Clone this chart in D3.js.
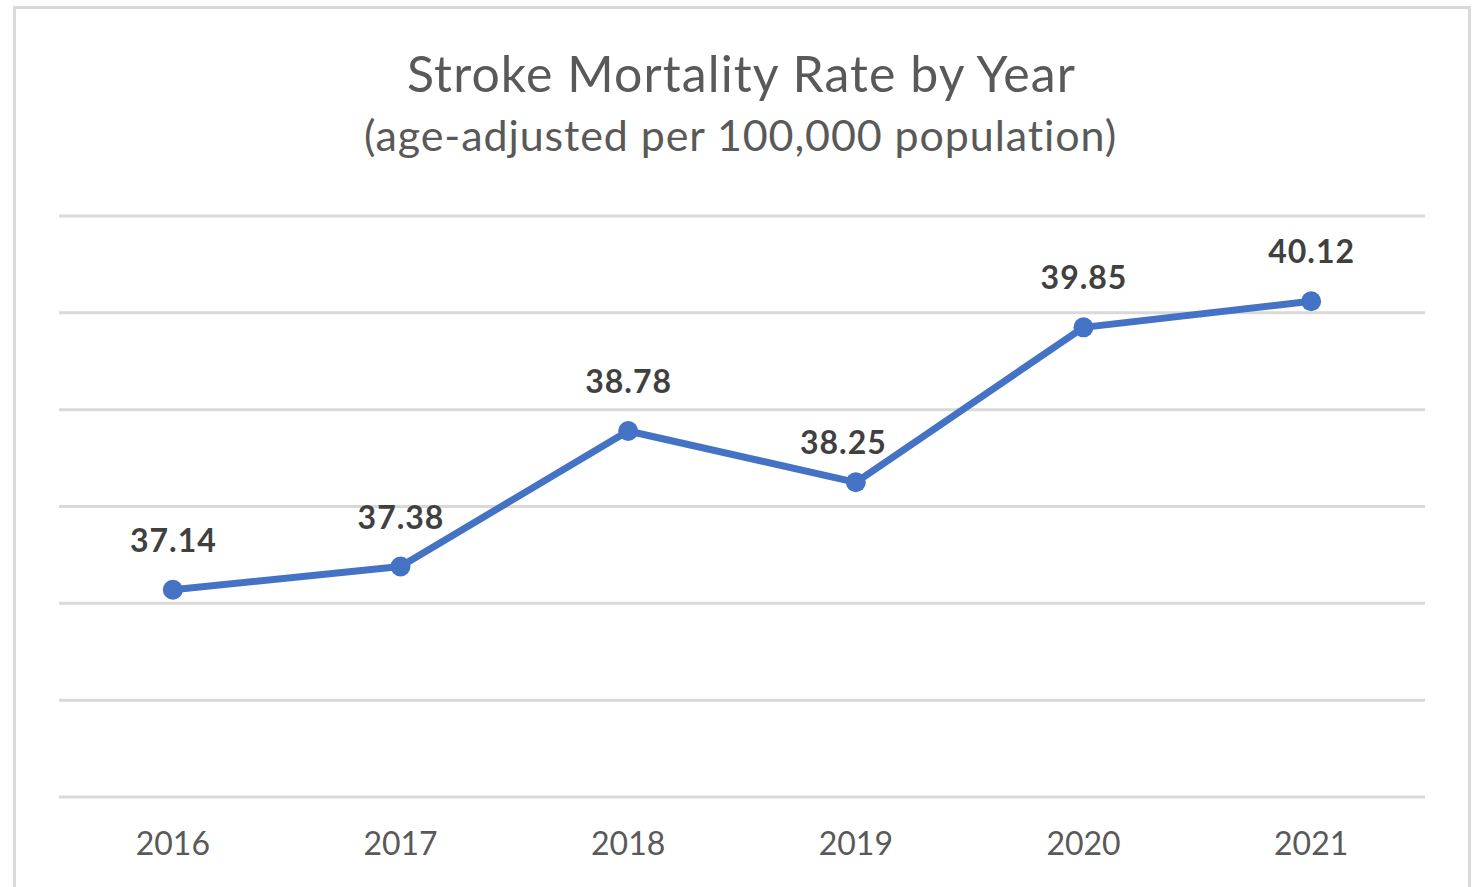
<!DOCTYPE html>
<html>
<head>
<meta charset="utf-8">
<script src="https://cdn.jsdelivr.net/npm/d3@7"></script>
<style>
  body { margin: 0; background: #fff; }
  text { font-family: Lato, "Open Sans", sans-serif; }
</style>
</head>
<body>
<svg id="chart" width="1481" height="887"></svg>
<script>
// chart data
var years = ['2016', '2017', '2018', '2019', '2020', '2021'];
var rates = [37.14, 37.38, 38.78, 38.25, 39.85, 40.12];
var gridValues = [35, 36, 37, 38, 39, 40, 41];
var titleText = 'Stroke Mortality Rate by Year';
var subtitleText = '(age-adjusted per 100,000 population)';

var svg = d3.select('#chart');

var margin = {left: 59, right: 56, top: 216, bottom: 90},
    width = 1481 - margin.left - margin.right;

// outer chart border
svg.append('rect')
  .attr('x', 14.5)
  .attr('y', 7.5)
  .attr('width', 1455)
  .attr('height', 900)
  .attr('fill', '#fff')
  .attr('stroke', '#d9d9d9')
  .attr('stroke-width', 3);

svg.append('text')
  .attr('x', 741.5)
  .attr('y', 92)
  .attr('text-anchor', 'middle')
  .attr('fill', '#595959')
  .style('font-size', '50px')
  .style('letter-spacing', '1.1px')
  .text(titleText);

svg.append('text')
  .attr('x', 740.5)
  .attr('y', 151)
  .attr('text-anchor', 'middle')
  .attr('fill', '#595959')
  .style('font-size', '43px')
  .style('letter-spacing', '0.9px')
  .text(subtitleText);

var g = svg.append('g')
  .attr('transform', 'translate(' + margin.left + ',' + margin.top + ')');

var x = d3.scaleBand()
  .domain(years)
  .range([0, width]);

var y = d3.scaleLinear()
  .domain([35, 41])
  .range([581, 0]);

// horizontal gridlines
g.selectAll('line.grid')
  .data(gridValues)
  .enter()
  .append('line')
  .classed('grid', true)
  .attr('x1', 0)
  .attr('x2', width)
  .attr('y1', function(d) { return y(d); })
  .attr('y2', function(d) { return y(d); })
  .attr('stroke', '#d9d9d9')
  .attr('stroke-width', 3);

// year labels
var xAxis = d3.axisBottom(x).tickSize(0).tickPadding(0);
var axisG = g.append('g')
  .attr('transform', 'translate(0,' + y(35) + ')')
  .call(xAxis);
axisG.select('.domain').remove();
axisG.selectAll('text')
  .attr('dy', null)
  .attr('y', 58)
  .attr('fill', '#595959')
  .style('font-size', '32px');

var points = years.map(function(d, i) { return {year: d, value: rates[i]}; });
var cx = function(d) { return x(d.year) + x.bandwidth() / 2; };

var line = d3.line()
  .x(cx)
  .y(function(d) { return y(d.value); });

g.append('path')
  .datum(points)
  .attr('d', line)
  .attr('fill', 'none')
  .attr('stroke', '#4472c4')
  .attr('stroke-width', 7)
  .attr('stroke-linejoin', 'round');

g.selectAll('circle.mark')
  .data(points)
  .enter()
  .append('circle')
  .classed('mark', true)
  .attr('cx', cx)
  .attr('cy', function(d) { return y(d.value); })
  .attr('r', 10)
  .attr('fill', '#4472c4');

// the 2019 label sits lower and to the left, so it clears the line
var nudge = function(d) { return d.year === '2019' ? [-13, 10] : [0, 0]; };

g.selectAll('text.label')
  .data(points)
  .enter()
  .append('text')
  .classed('label', true)
  .attr('x', function(d) { return cx(d) + nudge(d)[0] + 0.5; })
  .attr('y', function(d) { return y(d.value) - 38 + nudge(d)[1]; })
  .attr('text-anchor', 'middle')
  .attr('fill', '#404040')
  .style('font-size', '32px')
  .style('font-weight', 'bold')
  .style('letter-spacing', '1px')
  .text(function(d) { return d.value.toFixed(2); });
</script>
</body>
</html>
